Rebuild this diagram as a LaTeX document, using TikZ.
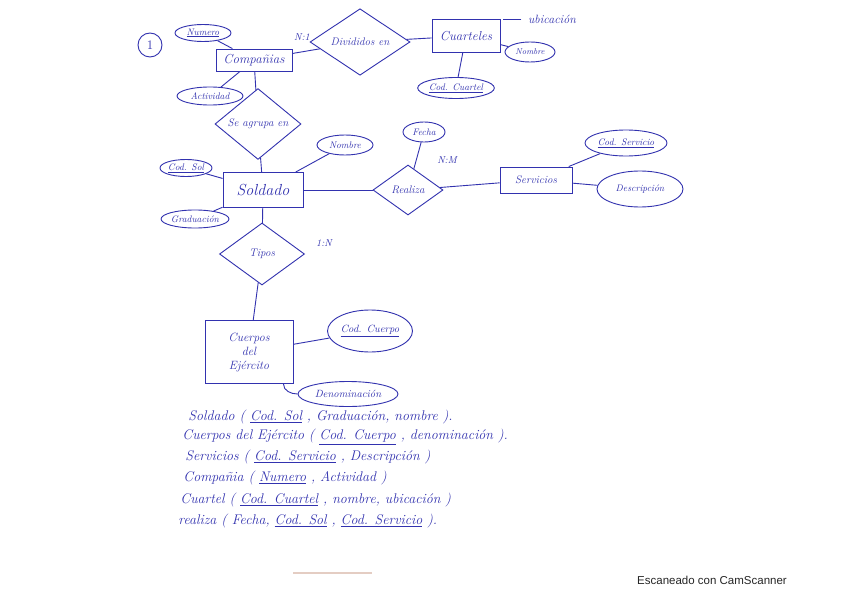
\documentclass[tikz,border=0pt]{standalone}
\usepackage{fontspec}
\newfontfamily\scanfont{Liberation Sans}
\usetikzlibrary{shapes.geometric}
\definecolor{ink}{RGB}{50,50,175}
\definecolor{smudge}{RGB}{228,205,195}
\tikzset{
  entity/.style={draw=ink, text=ink, rectangle, inner sep=1pt, font=\itshape\fontsize{13}{15}\selectfont},
  relation/.style={draw=ink, text=ink, diamond, inner sep=0pt, font=\itshape\fontsize{11}{13}\selectfont},
  attrib/.style={draw=ink, text=ink, ellipse, inner sep=0pt, font=\itshape\fontsize{9.5}{11}\selectfont},
  card/.style={text=ink, font=\itshape\fontsize{10}{12}\selectfont},
  table/.style={text=ink, anchor=west, inner sep=0pt, font=\itshape\fontsize{14}{16}\selectfont},
  link/.style={draw=ink, line width=0.9pt}
}
\begin{document}
\begin{tikzpicture}[x=1pt, y=-1pt, line width=0.9pt]
    \useasboundingbox[fill=white] (0,0) rectangle (848,599);

    %exercise number
    \node[draw=ink, text=ink, circle, minimum size=24pt, inner sep=0pt, font=\fontsize{13}{15}\selectfont] (num1) at (150,45) {1};

    %entities
    \node[entity, minimum width=76pt, minimum height=22pt] (comp) at (254,60) {Compañias};
    \node[entity, minimum width=68pt, minimum height=33pt] (cuart) at (466,36) {Cuarteles};
    \node[entity, minimum width=80pt, minimum height=35pt, font=\itshape\fontsize{16}{18}\selectfont] (sold) at (263,190) {Soldado};
    \node[entity, minimum width=72pt, minimum height=26pt, font=\itshape\fontsize{11}{13}\selectfont] (serv) at (536,180) {Servicios};
    \node[entity, minimum width=88pt, minimum height=63pt, align=center, font=\itshape\fontsize{12}{14}\selectfont] (cuer) at (249,352) {Cuerpos\\del\\Ejército};

    %relations
    \node[relation, minimum width=100pt, minimum height=57pt] (divid) at (360,42) {Divididos en};
    \node[relation, minimum width=86pt, minimum height=53pt] (agrup) at (258,124) {Se agrupa en};
    \node[relation, minimum width=70pt, minimum height=50pt] (realiza) at (408,190) {Realiza};
    \node[relation, minimum width=85pt, minimum height=62pt] (tipos) at (262,254) {Tipos};

    %attributes
    \node[attrib, minimum width=56pt, minimum height=17pt] (numero) at (203,33) {\underline{Numero}};
    \node[attrib, minimum width=66pt, minimum height=18pt] (activ) at (210,96) {Actividad};
    \node[attrib, minimum width=50pt, minimum height=20pt, font=\itshape\fontsize{8.5}{10}\selectfont] (nomcuart) at (530,52) {Nombre};
    \node[attrib, minimum width=75pt, minimum height=21pt] (codcuart) at (456,88) {\underline{Cod. Cuartel}};
    \node[text=ink, font=\itshape\fontsize{12}{14}\selectfont] (ubic) at (552,19) {ubicación};
    \node[attrib, minimum width=52pt, minimum height=17pt] (codsol) at (186,168) {\underline{Cod. Sol}};
    \node[attrib, minimum width=66pt, minimum height=18pt] (grad) at (195,219) {Graduación};
    \node[attrib, minimum width=56pt, minimum height=20pt] (nomsold) at (345,145) {Nombre};
    \node[attrib, minimum width=42pt, minimum height=20pt] (fecha) at (424,132) {Fecha};
    \node[attrib, minimum width=82pt, minimum height=26pt] (codserv) at (626,143) {\underline{Cod. Servicio}};
    \node[attrib, minimum width=86pt, minimum height=36pt] (descr) at (640,189) {Descripción};
    \node[attrib, minimum width=85pt, minimum height=42pt, font=\itshape\fontsize{10.5}{12}\selectfont] (codcuer) at (370,331) {\underline{Cod. Cuerpo}};
    \node[attrib, minimum width=100pt, minimum height=25pt, font=\itshape\fontsize{10.5}{12}\selectfont] (denom) at (348,394) {Denominación};

    %cardinalities
    \node[card] (c1) at (302,37) {N:1};
    \node[card] (c2) at (447,160) {N:M};
    \node[card] (c3) at (324,243) {1:N};

    %connectors
    \draw[link] (comp) -- (divid);
    \draw[link] (divid) -- (cuart);
    \draw[link] (comp) -- (agrup);
    \draw[link] (agrup) -- (sold);
    \draw[link] (sold) -- (realiza);
    \draw[link] (realiza) -- (serv);
    \draw[link] (sold) -- (tipos);
    \draw[link] (tipos) -- (cuer);
    \draw[link] (numero) -- (comp);
    \draw[link] (activ) -- (comp);
    \draw[link] (cuart) -- (nomcuart);
    \draw[link] (cuart) -- (codcuart);
    \draw[link, shorten >=3pt, shorten <=3pt] (ubic.west) -- (cuart.east |- ubic.west);
    \draw[link] (codsol) -- (sold);
    \draw[link] (grad) -- (sold);
    \draw[link] (nomsold) -- (sold);
    \draw[link] (fecha) -- (realiza);
    \draw[link] (serv) -- (codserv);
    \draw[link] (serv) -- (descr);
    \draw[link] (cuer) -- (codcuer);
    \draw[link] ([xshift=-10pt]cuer.south east) to[out=-90, in=180] (denom.west);

    %tables
    \node[table] (t1) at (188,417) {Soldado ( \underline{Cod. Sol} , Graduación, nombre ).};
    \node[table] (t2) at (182,437) {Cuerpos del Ejército ( \underline{Cod. Cuerpo} , denominación ).};
    \node[table] (t3) at (185,457) {Servicios ( \underline{Cod. Servicio} , Descripción )};
    \node[table] (t4) at (183,478) {Compañia ( \underline{Numero} , Actividad )};
    \node[table] (t5) at (180,500) {Cuartel ( \underline{Cod. Cuartel} , nombre, ubicación )};
    \node[table] (t6) at (178,521) {realiza ( Fecha, \underline{Cod. Sol} , \underline{Cod. Servicio} ).};

    %scan marks
    \draw[smudge, line width=1.2pt] (293,573) -- (372,573);
    \node[text=black!85, font=\scanfont\fontsize{11.5}{13}\selectfont] (scan) at (712,580) {Escaneado con CamScanner};
\end{tikzpicture}
\end{document}
